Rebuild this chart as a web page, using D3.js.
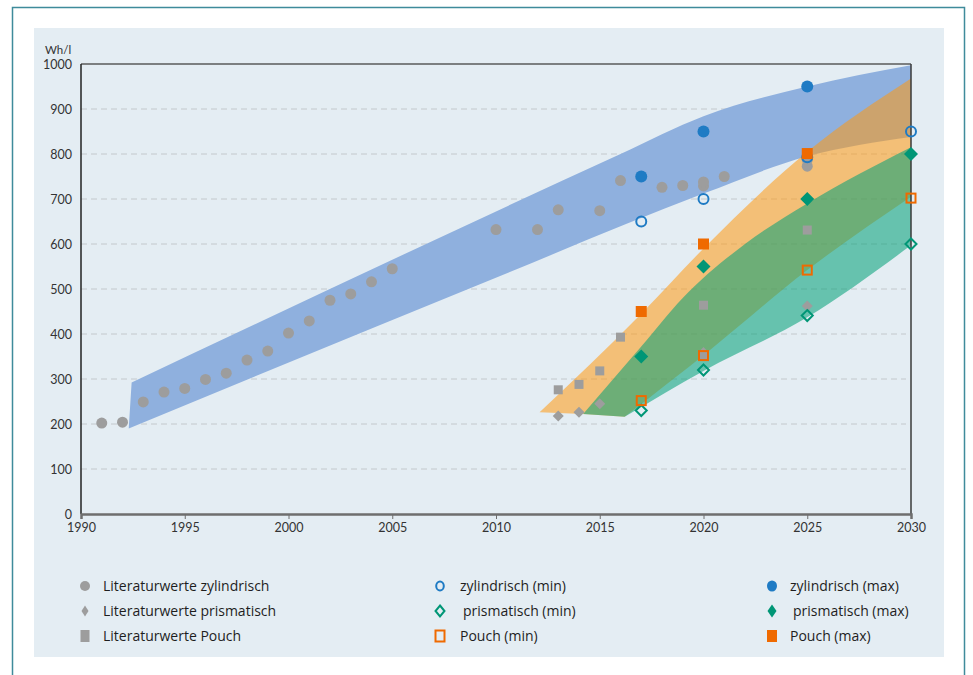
<!DOCTYPE html>
<html><head><meta charset="utf-8">
<script src="https://cdn.jsdelivr.net/npm/d3@7"></script>
<style>
html,body{margin:0;padding:0;background:#fff;}
svg{display:block;font-family:"Open Sans",Lato,sans-serif;}
</style></head>
<body>
<svg id="chart" width="973" height="675"></svg>
<script>
// ---------- data ----------
const xTicks = [1990,1995,2000,2005,2010,2015,2020,2025,2030];
const yTicks = [0,100,200,300,400,500,600,700,800,900,1000];
const yUnit = "Wh/l";

// literature values (gray)
const litZylYears = [1991,1992,1993,1994,1995,1996,1997,1998,1999,2000,2001,2002,2003,2004,2005,2010,2012,2013,2015,2016,2018,2019,2020,2020,2021,2025,2025];
const litZylVals  = [202,204,249,271,279,299,313,342,362,402,429,475,489,516,545,632,632,676,674,741,726,730,729,738,750,773,787];
const litPrisYears = [2013,2014,2015,2020,2025];
const litPrisVals  = [218,226,245,359,462];
const litPouchYears = [2013,2014,2015,2016,2020,2020,2025];
const litPouchVals  = [276,288,318,393,352,464,631];

// projections
const projYears = [2017,2020,2025,2030];
const zylMin  = [650,700,793,850];
const zylMax  = [750,850,950,null];
const prisMin = [230,320,441,600];
const prisMax = [350,550,700,800];
const pouchMin = [252,352,542,702];
const pouchMax = [450,600,801,null];

// band edges [year, value]
const zylBandUpper = [[1992.44,292],[2016,800],[2020,884],[2025,950],[2030,997]];
const zylBandLower = [[1992.3,190],[2010.2,529],[2020,712],[2025,795],[2030,838]];
const pouchBandUpper = [[2012.1,226],[2017,445],[2020,590],[2025,805],[2030,968]];
const pouchBandLowerStart = [[2012.1,226],[2014.2,222],[2016.2,216]];
const pouchBandLower = [[2016.2,216],[2020.3,364],[2025,542],[2030,705]];
const prisBandUpper = [[2014.2,222],[2017,372],[2019,480],[2022,600],[2025,690],[2030,815]];
const prisBandLowerStart = [[2014.2,222],[2016.2,216]];
const prisBandLower = [[2016.2,216],[2020,318],[2025,437],[2030,597]];

const legendItems = [
  ["Literaturwerte zylindrisch","litCircle"],["zylindrisch (min)","openCircle"],["zylindrisch (max)","fillCircle"],
  ["Literaturwerte prismatisch","litDiamond"],["prismatisch (min)","openDiamond"],["prismatisch (max)","fillDiamond"],
  ["Literaturwerte Pouch","litSquare"],["Pouch (min)","openSquare"],["Pouch (max)","fillSquare"]
];

// ---------- style ----------
const C = {gray:"#9d9d9d", blue:"#1f7bc4", green:"#009676", orange:"#ef6a00",
  bg:"#e4edf3", bandBlue:"#8fb0de", bandOrange:"#ff9910", bandTeal:"#04a178"};

const svg = d3.select("#chart");
svg.append("rect").attr("x",12.5).attr("y",7.5).attr("width",952).attr("height",720)
  .attr("fill","#fff").attr("stroke","#3f8b9b").attr("stroke-width",1.5);
svg.append("rect").attr("x",34).attr("y",28).attr("width",910).attr("height",629).attr("fill",C.bg);

const x = d3.scaleLinear().domain([1990,2030]).range([81,911]);
const y = d3.scaleLinear().domain([0,1000]).range([514,64]);

// gridlines
svg.append("g").selectAll("line").data(yTicks.filter(v=>v>0&&v<1000)).join("line")
  .attr("x1",x(1990)).attr("x2",x(2030)-5).attr("y1",d=>y(d)).attr("y2",d=>y(d))
  .attr("stroke","#c3c8cc").attr("stroke-width",1).attr("stroke-dasharray","6,4");

// bands
const curveGen = d3.line().x(d=>x(d[0])).y(d=>y(d[1])).curve(d3.curveMonotoneX);
const linGen = d3.line().x(d=>x(d[0])).y(d=>y(d[1]));
function band(upper, lowerStart, lower){
  let p = curveGen(upper);
  p += "L" + curveGen(lower.slice().reverse()).slice(1);
  if(lowerStart) p += "L" + linGen(lowerStart.slice().reverse()).slice(1);
  return p + "Z";
}
svg.append("path").attr("d",band(zylBandUpper,null,zylBandLower)).attr("fill",C.bandBlue);
svg.append("path").attr("d",band(pouchBandUpper,pouchBandLowerStart,pouchBandLower)).attr("fill",C.bandOrange).attr("fill-opacity",0.55);
svg.append("path").attr("d",band(prisBandUpper,prisBandLowerStart,prisBandLower)).attr("fill",C.bandTeal).attr("fill-opacity",0.56);

// axes frame
svg.append("line").attr("x1",x(1990)).attr("x2",x(2030)).attr("y1",y(1000)).attr("y2",y(1000)).attr("stroke","#5a5a5a").attr("stroke-width",1.5);
svg.append("line").attr("x1",x(2030)).attr("x2",x(2030)).attr("y1",y(1000)).attr("y2",y(0)).attr("stroke","#3a3a3a").attr("stroke-width",1.5);
svg.append("line").attr("x1",x(1990)).attr("x2",x(1990)).attr("y1",y(1000)).attr("y2",y(0)).attr("stroke","#222").attr("stroke-width",1.5);

// x axis
const xAxis = d3.axisBottom(x).tickValues(xTicks).tickFormat(d3.format("d")).tickSize(5).tickPadding(4);
const gx = svg.append("g").attr("transform",`translate(0,${y(0)})`).call(xAxis);
gx.select(".domain").attr("stroke","#6e6e6e").attr("stroke-width",2.5);
gx.selectAll(".tick line").attr("stroke","#6e6e6e");
gx.selectAll("text").attr("fill","#333").attr("font-size",12.5).attr("font-family","Lato, sans-serif");

// y axis
const yAxis = d3.axisLeft(y).tickValues(yTicks).tickFormat(d3.format("d")).tickSize(0).tickPadding(9);
const gy = svg.append("g").attr("transform",`translate(${x(1990)},0)`).call(yAxis);
gy.select(".domain").remove();
gy.selectAll("text").attr("fill","#333").attr("font-size",12.5).attr("font-family","Lato, sans-serif");
svg.append("text").attr("x",45).attr("y",54).attr("font-size",11.5).attr("font-family","Lato, sans-serif").attr("fill","#333").text(yUnit);

// markers
const diamond = (w,h)=>`M0,${-h/2}L${w/2},0L0,${h/2}L${-w/2},0Z`;
const pts = (years,vals)=>years.map((yr,i)=>[yr,vals[i]]).filter(d=>d[1]!=null);

svg.append("g").selectAll("circle").data(pts(litZylYears,litZylVals)).join("circle")
  .attr("cx",d=>x(d[0])).attr("cy",d=>y(d[1])).attr("r",5.5).attr("fill",C.gray);
svg.append("g").selectAll("path").data(pts(litPrisYears,litPrisVals)).join("path")
  .attr("transform",d=>`translate(${x(d[0])},${y(d[1])})`).attr("d",diamond(11,11)).attr("fill",C.gray);
svg.append("g").selectAll("rect").data(pts(litPouchYears,litPouchVals)).join("rect")
  .attr("x",d=>x(d[0])-4.5).attr("y",d=>y(d[1])-4.5).attr("width",9).attr("height",9).attr("fill",C.gray);

const g = svg.append("g");
g.selectAll(".zmin").data(pts(projYears,zylMin)).join("circle").attr("class","zmin")
  .attr("cx",d=>x(d[0])).attr("cy",d=>y(d[1])).attr("r",5).attr("fill","none").attr("stroke",C.blue).attr("stroke-width",2);
g.selectAll(".zmax").data(pts(projYears,zylMax)).join("circle").attr("class","zmax")
  .attr("cx",d=>x(d[0])).attr("cy",d=>y(d[1])).attr("r",6).attr("fill",C.blue);
g.selectAll(".pmin").data(pts(projYears,prisMin)).join("path").attr("class","pmin")
  .attr("transform",d=>`translate(${x(d[0])},${y(d[1])})`).attr("d",diamond(11,11)).attr("fill","none").attr("stroke",C.green).attr("stroke-width",2);
g.selectAll(".pmax").data(pts(projYears,prisMax)).join("path").attr("class","pmax")
  .attr("transform",d=>`translate(${x(d[0])},${y(d[1])})`).attr("d",diamond(14,14)).attr("fill",C.green);
g.selectAll(".qmin").data(pts(projYears,pouchMin)).join("rect").attr("class","qmin")
  .attr("x",d=>x(d[0])-4.5).attr("y",d=>y(d[1])-4.5).attr("width",9).attr("height",9)
  .attr("fill","none").attr("stroke",C.orange).attr("stroke-width",2);
g.selectAll(".qmax").data(pts(projYears,pouchMax)).join("rect").attr("class","qmax")
  .attr("x",d=>x(d[0])-5.5).attr("y",d=>y(d[1])-5.5).attr("width",11).attr("height",11).attr("fill",C.orange);

// legend
const colX = [85,440,772], textX = [103,460,790], rowY = [586,611,636];
const lg = svg.append("g");
legendItems.forEach((it,i)=>{
  const c = i%3, r = Math.floor(i/3);
  const mx = colX[c], my = rowY[r], k = it[1];
  const mg = lg.append("g").attr("transform",`translate(${mx},${my})`);
  if(k==="litCircle") mg.append("circle").attr("r",5).attr("fill",C.gray);
  else if(k==="openCircle") mg.append("ellipse").attr("rx",3.8).attr("ry",4.5).attr("fill","none").attr("stroke",C.blue).attr("stroke-width",2);
  else if(k==="fillCircle") mg.append("ellipse").attr("rx",5).attr("ry",5.5).attr("fill",C.blue);
  else if(k==="litDiamond") mg.append("path").attr("d",diamond(7,11)).attr("fill",C.gray);
  else if(k==="openDiamond") mg.append("path").attr("d",diamond(9,11)).attr("fill","none").attr("stroke",C.green).attr("stroke-width",2);
  else if(k==="fillDiamond") mg.append("path").attr("d",diamond(9,13)).attr("fill",C.green);
  else if(k==="litSquare") mg.append("rect").attr("x",-4.5).attr("y",-6).attr("width",9).attr("height",12).attr("fill",C.gray);
  else if(k==="openSquare") mg.append("rect").attr("x",-4.5).attr("y",-5.5).attr("width",9).attr("height",11).attr("fill","none").attr("stroke",C.orange).attr("stroke-width",2);
  else mg.append("rect").attr("x",-5).attr("y",-6).attr("width",10).attr("height",12).attr("fill",C.orange);
  lg.append("text").attr("x",textX[c] + (r===1&&c>0?3:0)).attr("y",my).attr("dy","0.35em")
    .attr("font-size",14).attr("fill","#1e1e1e").text(it[0]);
});
</script>
</body></html>
